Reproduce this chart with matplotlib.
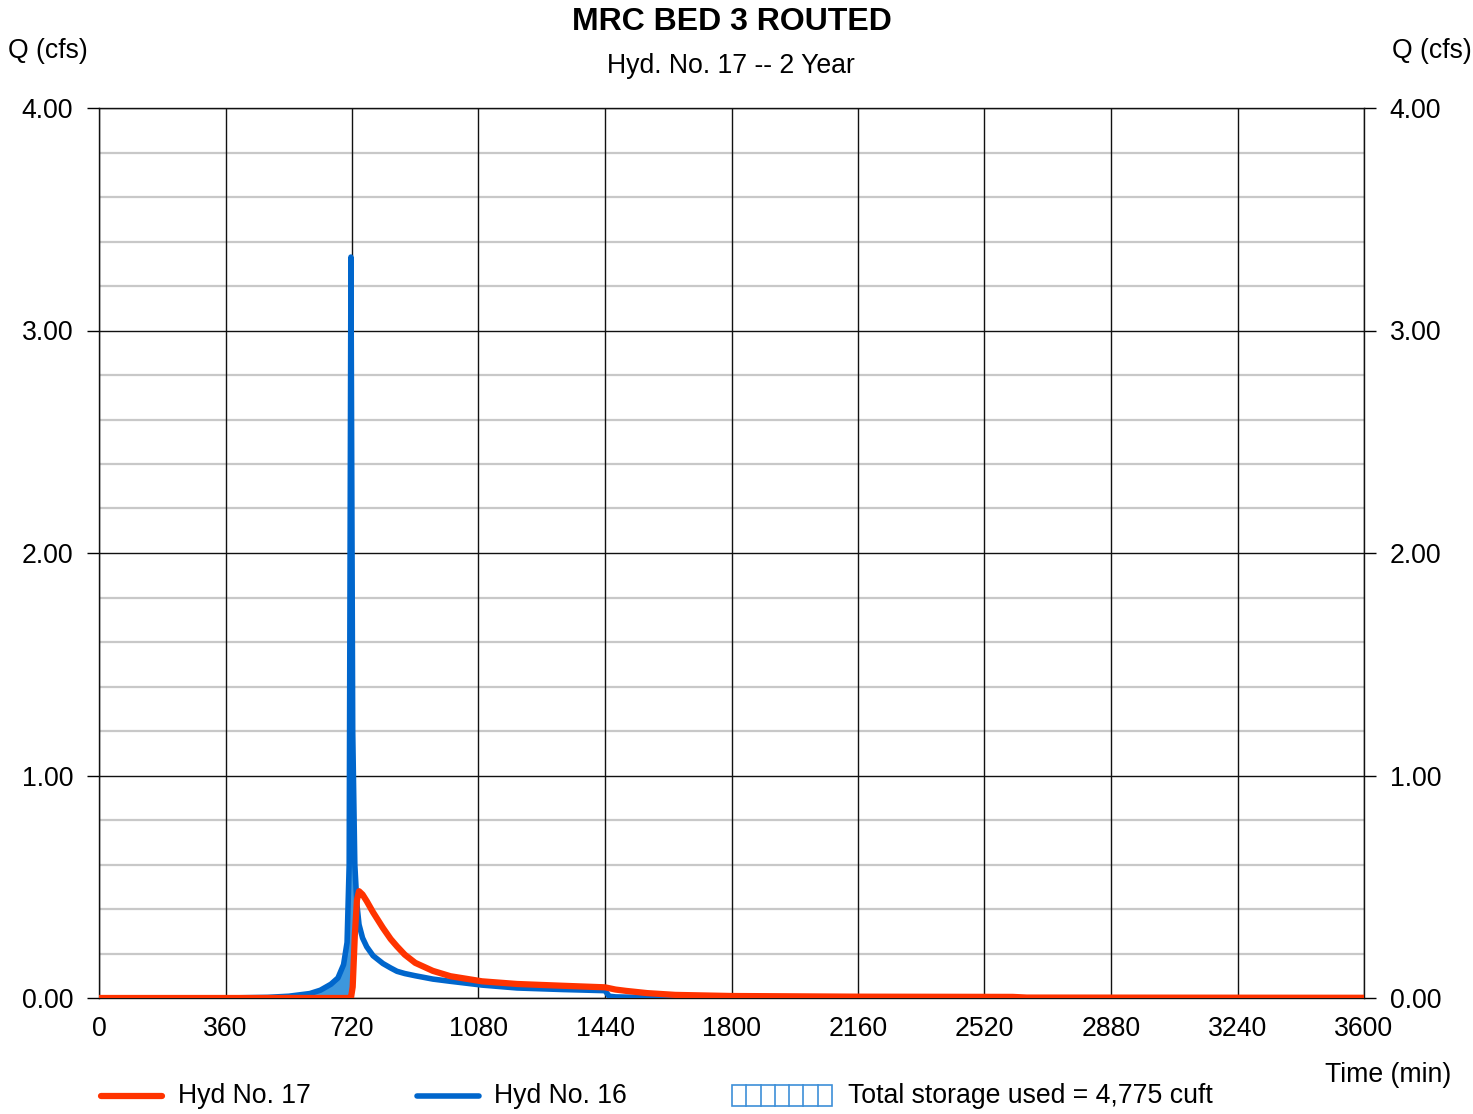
import matplotlib
matplotlib.use("Agg")
import matplotlib.pyplot as plt
from matplotlib.lines import Line2D
from matplotlib.patches import Rectangle
import numpy as np

plt.rcParams['font.family'] = ['Liberation Sans', 'DejaVu Sans']

# Hydrograph ordinates (time in minutes, flow in cfs)
time_min = [0, 360, 480, 540, 600, 630, 660, 680, 696, 706, 712, 717, 722, 728, 734,
            740, 750, 762, 780, 808, 830, 848, 870, 900, 950, 1000, 1090, 1190, 1320,
            1440, 1452, 1470, 1500, 1560, 1640, 1800, 2160, 2600, 2640, 3600]
inflow_hyd16 = [0.0, 0.0, 0.003, 0.008, 0.02, 0.035, 0.062, 0.09, 0.15, 0.25, 0.6, 3.33,
                1.2, 0.6, 0.42, 0.33, 0.27, 0.23, 0.19, 0.155, 0.135, 0.12, 0.11, 0.10,
                0.085, 0.075, 0.058, 0.045, 0.038, 0.033, 0.008, 0.005, 0.004, 0.003,
                0.002, 0.0015, 0.001, 0.001, 0.0005, 0.0]
outflow_hyd17 = [0.0, 0.0, 0.0, 0.0, 0.0, 0.0, 0.0, 0.0, 0.0, 0.0, 0.0, 0.0, 0.05, 0.28,
                 0.44, 0.48, 0.465, 0.435, 0.385, 0.315, 0.265, 0.232, 0.195, 0.158, 0.122,
                 0.098, 0.075, 0.063, 0.055, 0.048, 0.044, 0.038, 0.032, 0.022, 0.014,
                 0.009, 0.006, 0.005, 0.002, 0.001]

x_ticks = [0, 360, 720, 1080, 1440, 1800, 2160, 2520, 2880, 3240, 3600]
y_ticks = [0.0, 1.0, 2.0, 3.0, 4.0]
y_minor = [0.2, 0.4, 0.6, 0.8, 1.2, 1.4, 1.6, 1.8, 2.2, 2.4, 2.6, 2.8, 3.2, 3.4, 3.6, 3.8]

RED = '#ff3300'
BLUE = '#0066cc'
FILL = '#3d97dd'
FS = 19.2

t = np.array(time_min, dtype=float)
qin = np.array(inflow_hyd16)
qout = np.array(outflow_hyd17)

fig = plt.figure(figsize=(14.73, 11.14), dpi=100)
ax = fig.add_axes([99 / 1473, 1 - 998 / 1114, (1364 - 99) / 1473, (998 - 108) / 1114])

ax.set_xlim(0, 3600)
ax.set_ylim(0, 4)

# grid
for y in y_minor:
    ax.axhline(y, color='#c8c8c8', lw=1.6, zorder=1)
for y in y_ticks:
    ax.axhline(y, color='#111111', lw=1.0, zorder=1.5)
for x in x_ticks:
    ax.axvline(x, color='#111111', lw=1.0, zorder=1.5)
for s in ax.spines.values():
    s.set_color('#111111')
    s.set_linewidth(1.0)

# storage between inflow and outflow
ax.fill_between(t, qout, qin, where=qin >= qout, interpolate=True,
                color=FILL, lw=0, zorder=2)
ax.plot(t, qin, color=BLUE, lw=4.0, solid_capstyle='round', solid_joinstyle='round', zorder=3)
ax.plot(t, qout, color=RED, lw=4.5, solid_capstyle='round', solid_joinstyle='round', zorder=4)

ax.set_xticks(x_ticks)
ax.set_xticklabels([str(v) for v in x_ticks])
ax.set_yticks(y_ticks)
ax.set_yticklabels([f"{v:.2f}" for v in y_ticks])
ax.tick_params(axis='x', length=0, pad=13, labelsize=FS)
ax.tick_params(axis='y', length=8.5, width=1.0, pad=10, labelsize=FS,
               left=True, right=True, labelleft=True, labelright=True, direction='out')

fig.text(0.497, 1 - 22 / 1114, 'MRC BED 3 ROUTED', ha='center', va='center',
         fontsize=23, fontweight='bold')
fig.text(0.496, 1 - 66 / 1114, 'Hyd. No. 17 -- 2 Year', ha='center', va='center', fontsize=FS)
fig.text(8 / 1473, 1 - 51 / 1114, 'Q (cfs)', ha='left', va='center', fontsize=FS)
fig.text(1472 / 1473, 1 - 51 / 1114, 'Q (cfs)', ha='right', va='center', fontsize=FS)
fig.text(1451 / 1473, 1 - 1075 / 1114, 'Time (min)', ha='right', va='center', fontsize=FS)

# legend
ly = 1 - 1096 / 1114
fig.add_artist(Line2D([101 / 1473, 162 / 1473], [ly, ly], color=RED, lw=4.5,
                      solid_capstyle='round'))
fig.text(178 / 1473, ly, 'Hyd No. 17', ha='left', va='center', fontsize=FS)
fig.add_artist(Line2D([417 / 1473, 479 / 1473], [ly, ly], color=BLUE, lw=4.0,
                      solid_capstyle='round'))
fig.text(494 / 1473, ly, 'Hyd No. 16', ha='left', va='center', fontsize=FS)
bx0, bx1 = 732 / 1473, 832 / 1473
by0, by1 = 1 - 1106 / 1114, 1 - 1085 / 1114
fig.add_artist(Rectangle((bx0, by0), bx1 - bx0, by1 - by0, facecolor='white',
                         edgecolor='#3d8fd8', lw=1.2))
for k in range(1, 7):
    xx = bx0 + (bx1 - bx0) * k / 7
    fig.add_artist(Line2D([xx, xx], [by0, by1], color='#3d8fd8', lw=1.2))
fig.text(848 / 1473, ly, 'Total storage used = 4,775 cuft', ha='left', va='center',
         fontsize=FS)

fig.savefig('out.png', dpi=100, facecolor='white')
